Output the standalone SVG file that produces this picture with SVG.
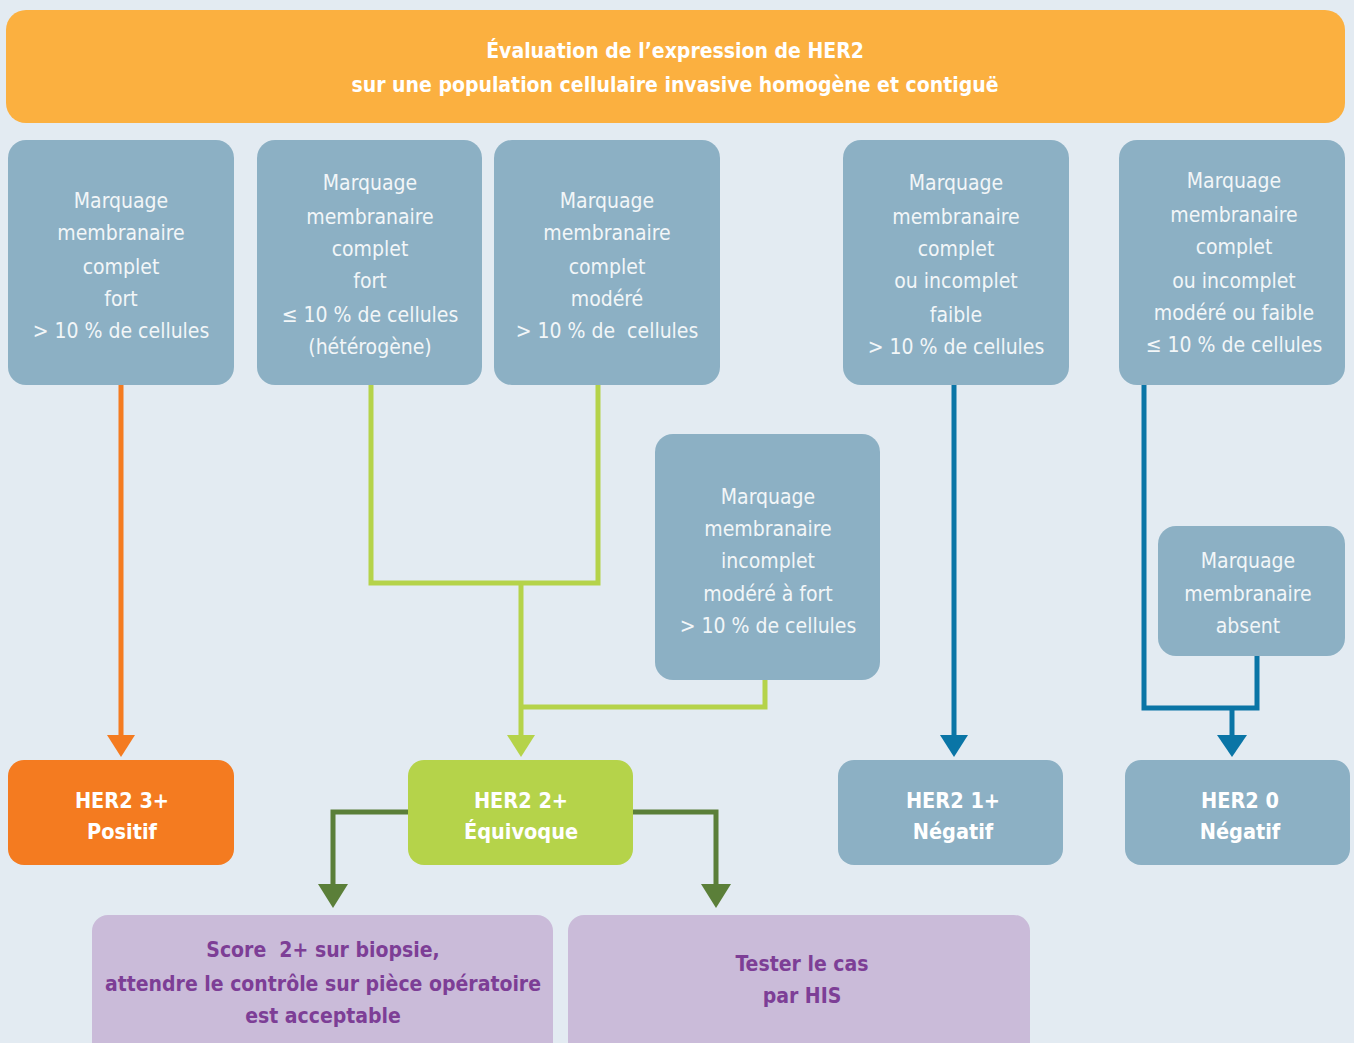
<svg xmlns="http://www.w3.org/2000/svg" width="1354" height="1043" viewBox="0 0 1354 1043">
  <defs>
    <style>
      .crit { fill: #8CB0C4; }
      .crit-t { font-family: "Liberation Sans Narrow", "DejaVu Sans Condensed", "Liberation Sans", sans-serif; font-size: 21px; fill: #F2F6F8; text-anchor: middle; }
      .res-t { font-family: "Liberation Sans Narrow", "DejaVu Sans Condensed", "Liberation Sans", sans-serif; font-size: 21.5px; font-weight: bold; fill: #FFFFFF; text-anchor: middle; }
      .act { fill: #CABBD9; }
      .act-t { font-family: "Liberation Sans Narrow", "DejaVu Sans Condensed", "Liberation Sans", sans-serif; font-size: 21px; font-weight: bold; fill: #7D3E96; text-anchor: middle; }
      .head-t { font-family: "Liberation Sans Narrow", "DejaVu Sans Condensed", "Liberation Sans", sans-serif; font-size: 21px; font-weight: bold; fill: #FFFFFF; text-anchor: middle; }
      .ln { fill: none; stroke-width: 5; stroke-linejoin: miter; }
    </style>
  </defs>

  <rect x="0" y="0" width="1354" height="1043" fill="#E3EBF2"/>

  <!-- header -->
  <g id="header">
    <rect x="6" y="10" width="1339" height="113" rx="20" fill="#FBB040"/>
    <text class="head-t" x="675" y="58">Évaluation de l’expression de HER2</text>
    <text class="head-t" x="675" y="92">sur une population cellulaire invasive homogène et contiguë</text>
  </g>

  <!-- connectors -->
  <g id="connectors">
    <!-- to HER2 3+ -->
    <path class="ln" stroke="#F47B20" d="M121 385 V740"/>
    <polygon fill="#F47B20" points="107,735 135,735 121,757"/>
    <!-- to HER2 2+ -->
    <path class="ln" stroke="#B5D34A" d="M371 385 V583 H598 V385"/>
    <path class="ln" stroke="#B5D34A" d="M521 583 V740"/>
    <path class="ln" stroke="#B5D34A" d="M765 680 V707 H521"/>
    <polygon fill="#B5D34A" points="507,735 535,735 521,757"/>
    <!-- to HER2 1+ -->
    <path class="ln" stroke="#0A75A6" d="M954 385 V740"/>
    <polygon fill="#0A75A6" points="940,735 968,735 954,757"/>
    <!-- to HER2 0 -->
    <path class="ln" stroke="#0A75A6" d="M1144 385 V708 H1257 V656"/>
    <path class="ln" stroke="#0A75A6" d="M1232 708 V740"/>
    <polygon fill="#0A75A6" points="1217,735 1247,735 1232,757"/>
    <!-- from HER2 2+ -->
    <path class="ln" stroke="#5B7F39" d="M408 812 H333 V890"/>
    <polygon fill="#5B7F39" points="318,884 348,884 333,908"/>
    <path class="ln" stroke="#5B7F39" d="M633 812 H716 V890"/>
    <polygon fill="#5B7F39" points="701,884 731,884 716,908"/>
  </g>

  <!-- criteria -->
  <g id="crit-1">
    <rect class="crit" x="8" y="140" width="226" height="245" rx="18"/>
    <text class="crit-t" x="121" y="208">Marquage</text>
    <text class="crit-t" x="121" y="240">membranaire</text>
    <text class="crit-t" x="121" y="274">complet</text>
    <text class="crit-t" x="121" y="306">fort</text>
    <text class="crit-t" x="121" y="338">&gt; 10 % de cellules</text>
  </g>
  <g id="crit-2">
    <rect class="crit" x="257" y="140" width="225" height="245" rx="18"/>
    <text class="crit-t" x="370" y="190">Marquage</text>
    <text class="crit-t" x="370" y="224">membranaire</text>
    <text class="crit-t" x="370" y="256">complet</text>
    <text class="crit-t" x="370" y="288">fort</text>
    <text class="crit-t" x="370" y="322">≤ 10 % de cellules</text>
    <text class="crit-t" x="370" y="354">(hétérogène)</text>
  </g>
  <g id="crit-3">
    <rect class="crit" x="494" y="140" width="226" height="245" rx="18"/>
    <text class="crit-t" x="607" y="208">Marquage</text>
    <text class="crit-t" x="607" y="240">membranaire</text>
    <text class="crit-t" x="607" y="274">complet</text>
    <text class="crit-t" x="607" y="306">modéré</text>
    <text class="crit-t" x="607" y="338" xml:space="preserve">&gt; 10 % de  cellules</text>
  </g>
  <g id="crit-4">
    <rect class="crit" x="843" y="140" width="226" height="245" rx="18"/>
    <text class="crit-t" x="956" y="190">Marquage</text>
    <text class="crit-t" x="956" y="224">membranaire</text>
    <text class="crit-t" x="956" y="256">complet</text>
    <text class="crit-t" x="956" y="288">ou incomplet</text>
    <text class="crit-t" x="956" y="322">faible</text>
    <text class="crit-t" x="956" y="354">&gt; 10 % de cellules</text>
  </g>
  <g id="crit-5">
    <rect class="crit" x="1119" y="140" width="226" height="245" rx="18"/>
    <text class="crit-t" x="1234" y="188">Marquage</text>
    <text class="crit-t" x="1234" y="222">membranaire</text>
    <text class="crit-t" x="1234" y="254">complet</text>
    <text class="crit-t" x="1234" y="288">ou incomplet</text>
    <text class="crit-t" x="1234" y="320">modéré ou faible</text>
    <text class="crit-t" x="1234" y="352">≤ 10 % de cellules</text>
  </g>
  <g id="crit-6">
    <rect class="crit" x="655" y="434" width="225" height="246" rx="18"/>
    <text class="crit-t" x="768" y="504">Marquage</text>
    <text class="crit-t" x="768" y="536">membranaire</text>
    <text class="crit-t" x="768" y="568">incomplet</text>
    <text class="crit-t" x="768" y="601">modéré à fort</text>
    <text class="crit-t" x="768" y="633">&gt; 10 % de cellules</text>
  </g>
  <g id="crit-7">
    <rect class="crit" x="1158" y="526" width="187" height="130" rx="18"/>
    <text class="crit-t" x="1248" y="568">Marquage</text>
    <text class="crit-t" x="1248" y="601">membranaire</text>
    <text class="crit-t" x="1248" y="633">absent</text>
  </g>

  <!-- scores -->
  <g id="her2-3">
    <rect x="8" y="760" width="226" height="105" rx="16" fill="#F47B20"/>
    <text class="res-t" x="122" y="808">HER2 3+</text>
    <text class="res-t" x="122" y="839">Positif</text>
  </g>
  <g id="her2-2">
    <rect x="408" y="760" width="225" height="105" rx="16" fill="#B5D34A"/>
    <text class="res-t" x="521" y="808">HER2 2+</text>
    <text class="res-t" x="521" y="839">Équivoque</text>
  </g>
  <g id="her2-1">
    <rect class="crit" x="838" y="760" width="225" height="105" rx="16"/>
    <text class="res-t" x="953" y="808">HER2 1+</text>
    <text class="res-t" x="953" y="839">Négatif</text>
  </g>
  <g id="her2-0">
    <rect class="crit" x="1125" y="760" width="225" height="105" rx="16"/>
    <text class="res-t" x="1240" y="808">HER2 0</text>
    <text class="res-t" x="1240" y="839">Négatif</text>
  </g>

  <!-- follow-up actions -->
  <g id="action-biopsy">
    <rect class="act" x="92" y="915" width="461" height="150" rx="16"/>
    <text class="act-t" x="323" y="957" xml:space="preserve">Score  2+ sur biopsie,</text>
    <text class="act-t" x="323" y="991">attendre le contrôle sur pièce opératoire</text>
    <text class="act-t" x="323" y="1023">est acceptable</text>
  </g>
  <g id="action-his">
    <rect class="act" x="568" y="915" width="462" height="150" rx="16"/>
    <text class="act-t" x="802" y="971">Tester le cas</text>
    <text class="act-t" x="802" y="1003">par HIS</text>
  </g>
</svg>
